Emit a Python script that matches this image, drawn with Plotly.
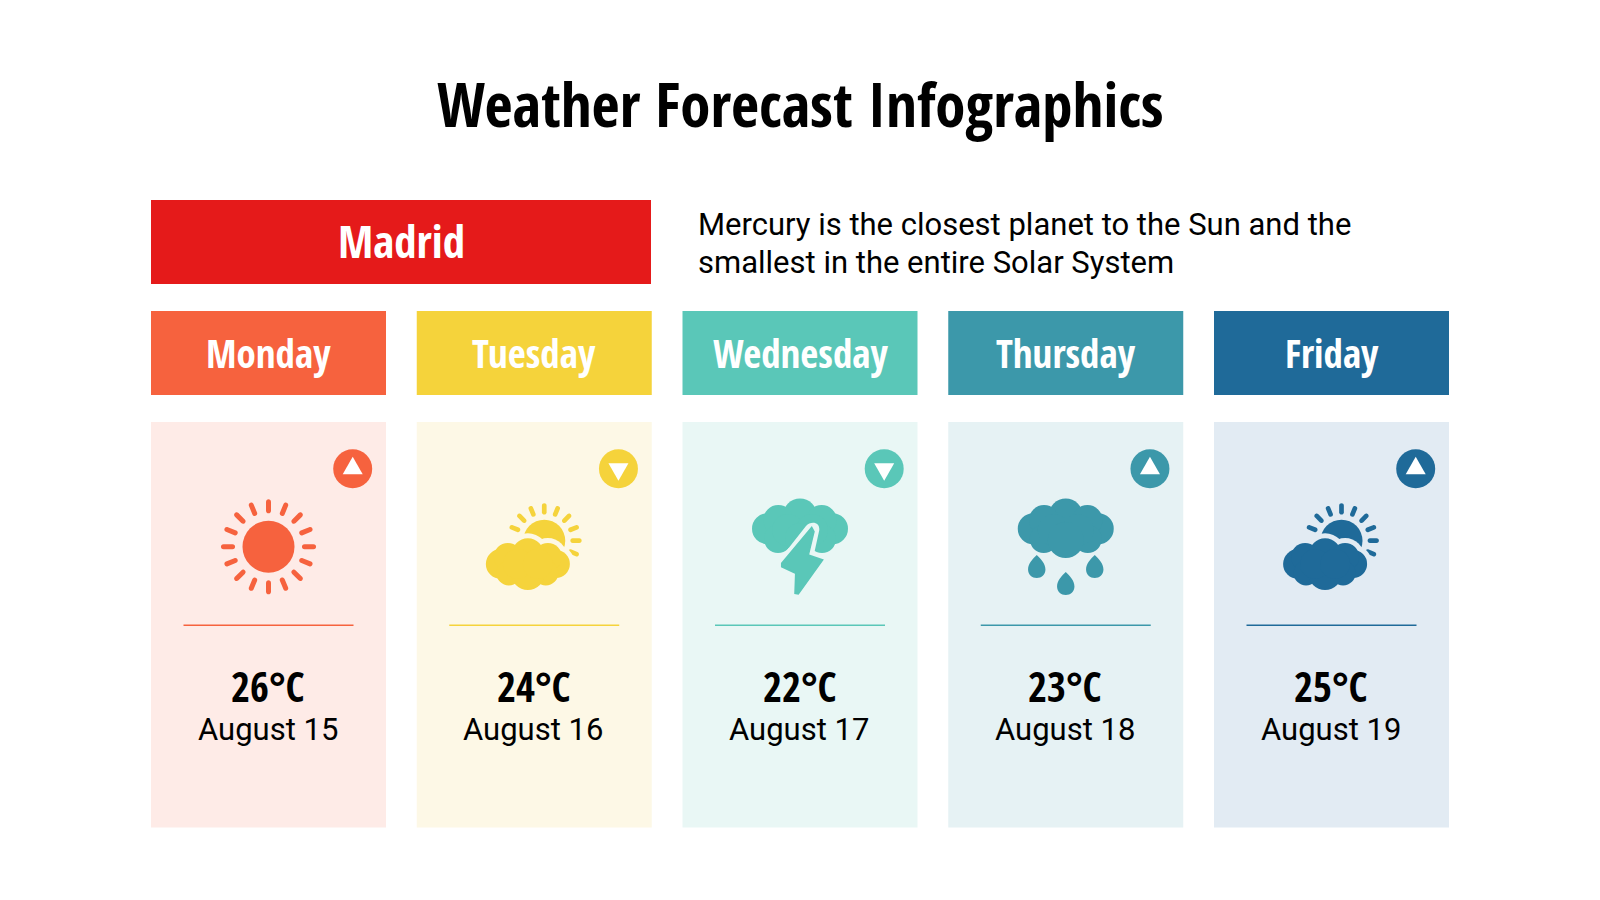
import math
import plotly.graph_objects as go

TITLE = 'Weather Forecast Infographics'
CITY = 'Madrid'
BLURB = ['Mercury is the closest planet to the Sun and the', 'smallest in the entire Solar System']
DAYS = ['Monday', 'Tuesday', 'Wednesday', 'Thursday', 'Friday']
TEMPS = [26, 24, 22, 23, 25]
DATES = ['August 15', 'August 16', 'August 17', 'August 18', 'August 19']
TRENDS = ['up', 'down', 'down', 'up', 'up']
ICONS = ['sun', 'partly', 'storm', 'rain', 'partly']
COLORS = ['#F6623E', '#F5D33B', '#5AC7B8', '#3C98AA', '#1F6A99']
TINTS = ['#FEEBE7', '#FDF8E6', '#E9F7F5', '#E6F2F4', '#E2EBF3']

HEAD_FONT = 'Open Sans Condensed'
BODY_FONT = 'Roboto'

CARD_X0 = 151
CARD_STEP = 265.75
CARD_W = 235

shapes = []
notes = []


def rect(x0, y0, x1, y1, color):
    shapes.append(dict(type='rect', x0=x0, y0=y0, x1=x1, y1=y1, fillcolor=color, line_width=0, layer='above'))


def circle(cx, cy, r, color):
    shapes.append(dict(type='circle', x0=cx - r, y0=cy - r, x1=cx + r, y1=cy + r,
                       fillcolor=color, line_width=0, layer='above'))


def path(d, color, line=0):
    shapes.append(dict(type='path', path=d, fillcolor=color, layer='above',
                       line=dict(width=line, color=color)))


def text(x, y, s, size, color='#000000', font=BODY_FONT, bold=False, anchor='center'):
    notes.append(dict(x=x, y=y, text=f'<b>{s}</b>' if bold else s, showarrow=False, xanchor=anchor, yanchor='middle',
                      font=dict(family=font, size=size, color=color)))


def capsule(x1, y1, x2, y2, w, color):
    # rounded ray between two points
    a = math.atan2(y2 - y1, x2 - x1)
    nx, ny = -math.sin(a) * w / 2, math.cos(a) * w / 2
    tx, ty = math.cos(a) * w * 0.68, math.sin(a) * w * 0.68
    d = (f'M{x1 + nx},{y1 + ny} L{x2 + nx},{y2 + ny} '
         f'C{x2 + nx + tx},{y2 + ny + ty} {x2 - nx + tx},{y2 - ny + ty} {x2 - nx},{y2 - ny} '
         f'L{x1 - nx},{y1 - ny} '
         f'C{x1 - nx - tx},{y1 - ny - ty} {x1 + nx - tx},{y1 + ny - ty} {x1 + nx},{y1 + ny} Z')
    path(d, color)


def rays(cx, cy, r0, r1, w, angles, color):
    for deg in angles:
        a = math.radians(deg)
        capsule(cx + r0 * math.cos(a), cy - r0 * math.sin(a),
                cx + r1 * math.cos(a), cy - r1 * math.sin(a), w, color)


def cloud(cx, cy, blobs, color, grow=0):
    for dx, dy, r in blobs:
        circle(cx + dx, cy + dy, r + grow, color)


def drop(cx, top, color):
    d = (f'M{cx},{top} C{cx + 4},{top + 4} {cx + 8.7},{top + 8.5} {cx + 8.7},{top + 14.5} '
         f'C{cx + 8.7},{top + 19.5} {cx + 4.7},{top + 23} {cx},{top + 23} '
         f'C{cx - 4.7},{top + 23} {cx - 8.7},{top + 19.5} {cx - 8.7},{top + 14.5} '
         f'C{cx - 8.7},{top + 8.5} {cx - 4},{top + 4} {cx},{top} Z')
    path(d, color)


BIG_CLOUD = [(0, -14.5, 17), (-32.5, -1.3, 15.5), (32.5, -1.3, 15.5), (-21.7, -10, 15), (21.7, -10, 15),
             (-22, 9, 14), (22, 9, 14), (-12, 0, 16), (12, 0, 16)]
SMALL_CLOUD = [(0, -9.7, 16), (-27, 0, 15), (28, 0, 14), (-20, -7, 14), (20, -7, 14),
               (-19, 9, 12.5), (18, 9, 12.5), (0, 9, 17), (-10, 0, 15), (10, 0, 15)]


def draw_icon(kind, cx, tint, color):
    if kind == 'sun':
        cy = 546.7
        circle(cx, cy, 26, color)
        rays(cx, cy, 36, 45, 5, [k * 22.5 for k in range(16)], color)
    elif kind == 'partly':
        sx, sy = cx + 10, 540.7
        circle(sx, sy, 21, color)
        rays(sx, sy, 28.5, 35, 4.7, [-22.5, 0, 22.5, 45, 67.5, 90, 112.5, 135, 157.5], color)
        cloud(cx - 6.4, 564, SMALL_CLOUD, tint, grow=5)
        cloud(cx - 6.4, 564, SMALL_CLOUD, color)
    elif kind == 'storm':
        cloud(cx, 530, BIG_CLOUD, color)
        circle(cx, 538, 15, color)
        # cut-out around the bolt, rounded at the top
        gap = (f'M{cx - 23.3},563.3 L{cx + 6},526 C{cx + 10.7},520.7 {cx + 20},521.7 {cx + 19.3},530 '
               f'L{cx + 14.3},552.7 L{cx + 26.7},558.3 L{cx},596.7 L{cx - 8.3},596.7 '
               f'L{cx - 8.3},576.7 L{cx - 23.3},568.3 Z')
        path(gap, tint)
        bolt = [(11.7, 527.3), (14, 531.7), (8.3, 555), (22.7, 560), (-1.7, 594), (-5, 593.3),
                (-4.3, 573.3), (-18.3, 566.7), (-18.3, 563.3)]
        d = 'M' + ' L'.join(f'{cx + px},{py}' for px, py in bolt) + ' Z'
        path(d, color, line=1.5)
    else:
        cloud(cx, 530, BIG_CLOUD, color)
        circle(cx, 540, 18, color)
        drop(cx - 29, 555, color)
        drop(cx + 29, 555, color)
        drop(cx, 572, color)


def draw_arrow(cx, cy, trend, color):
    circle(cx, cy, 19.5, color)
    if trend == 'up':
        d = f'M{cx},{cy - 12} L{cx + 10},{cy + 5.5} L{cx - 10},{cy + 5.5} Z'
    else:
        d = f'M{cx},{cy + 12} L{cx + 10},{cy - 5.5} L{cx - 10},{cy - 5.5} Z'
    path(d, '#FFFFFF')


text(800, 103.5, TITLE, 61, font=HEAD_FONT, bold=True)
rect(CARD_X0, 200, CARD_X0 + 500, 284, '#E51A1A')
text(CARD_X0 + 250, 240.5, CITY, 45, '#FFFFFF', HEAD_FONT, True)
text(695.5, 224, BLURB[0], 31, anchor='left')
text(695.5, 262, BLURB[1], 31, anchor='left')

for i, day in enumerate(DAYS):
    x0 = CARD_X0 + CARD_STEP * i
    mid = x0 + CARD_W / 2
    rect(x0, 311, x0 + CARD_W, 395, COLORS[i])
    text(mid, 352.5, day, 39, '#FFFFFF', HEAD_FONT, True)
    rect(x0, 422, x0 + CARD_W, 827.5, TINTS[i])
    draw_arrow(x0 + 201.7, 468.7, TRENDS[i], COLORS[i])
    draw_icon(ICONS[i], mid, TINTS[i], COLORS[i])
    shapes.append(dict(type='line', x0=mid - 85, x1=mid + 85, y0=625.3, y1=625.3, layer='above',
                       line=dict(color=COLORS[i], width=1.5)))
    text(mid - 0.5, 686, f'{TEMPS[i]}°C', 41, font=HEAD_FONT, bold=True)
    text(mid - 1, 729, DATES[i], 31)

fig = go.Figure()
# the page body keeps its 8px margin, so the plot area starts at 8,8
fig.update_layout(
    width=1592, height=892,
    margin=dict(l=0, r=0, t=0, b=0),
    plot_bgcolor='white', paper_bgcolor='white',
    showlegend=False,
    shapes=shapes, annotations=notes,
    xaxis=dict(range=[8, 1600], visible=False, fixedrange=True),
    yaxis=dict(range=[900, 8], visible=False, fixedrange=True),
)
fig.write_html("out.html")
